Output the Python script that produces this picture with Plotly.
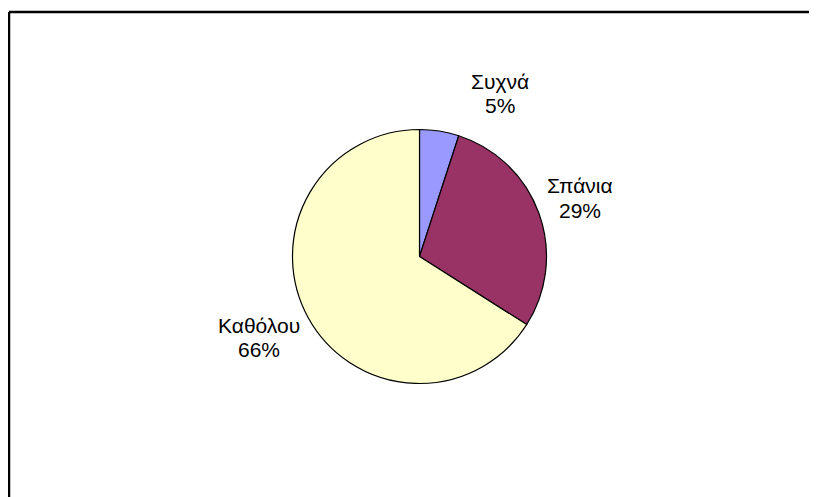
import plotly.graph_objects as go

labels = ["Συχνά", "Σπάνια", "Καθόλου"]
values = [5, 29, 66]
colors = ["#9999FF", "#993366", "#FFFFCC"]

# the page body adds an 8px margin on the top/left; the figure fills the rest of the window
PAD = 8
W, H = 817 - PAD, 497 - PAD

def px(x):
    return (x - PAD) / W

def py(y):
    return 1 - (y - PAD) / H

# pie centre / radius in page pixels
cx, cy, r = 419.5, 256.5, 127

# label anchor points (page pixels): x centre, y of the name line, y of the percent line
label_pos = [(500, 82, 105), (580, 185, 210), (259, 325, 349)]

FONT = "Liberation Sans, Arial, sans-serif"

fig = go.Figure()
fig.add_trace(go.Pie(
    labels=labels,
    values=values,
    sort=False,
    direction="clockwise",
    rotation=0,
    marker=dict(colors=colors, line=dict(color="black", width=1.2)),
    textinfo="none",
    hoverinfo="label+percent",
    showlegend=False,
    domain=dict(x=[px(cx - r), px(cx + r)], y=[py(cy + r), py(cy - r)]),
))

total = sum(values)
for lab, val, (lx, ly1, ly2) in zip(labels, values, label_pos):
    pct = f"{round(100 * val / total)}%"
    for txt, ly in ((lab, ly1), (pct, ly2)):
        fig.add_annotation(text=txt, x=px(lx), y=py(ly), xref="paper", yref="paper",
                           xanchor="center", yanchor="middle", showarrow=False,
                           font=dict(family=FONT, size=21, color="black"))

# chart frame: only the top and left edges are inside the crop
frame = dict(color="black", width=2.5)
fig.add_shape(type="line", x0=px(9), x1=px(9), y0=0, y1=py(12),
              xref="paper", yref="paper", line=frame)
fig.add_shape(type="line", x0=px(9), x1=1, y0=py(12), y1=py(12),
              xref="paper", yref="paper", line=frame)

fig.update_layout(
    width=W, height=H,
    margin=dict(l=0, r=0, t=0, b=0),
    paper_bgcolor="white",
    plot_bgcolor="white",
    font=dict(family=FONT, color="black"),
)

fig.write_html("out.html")
